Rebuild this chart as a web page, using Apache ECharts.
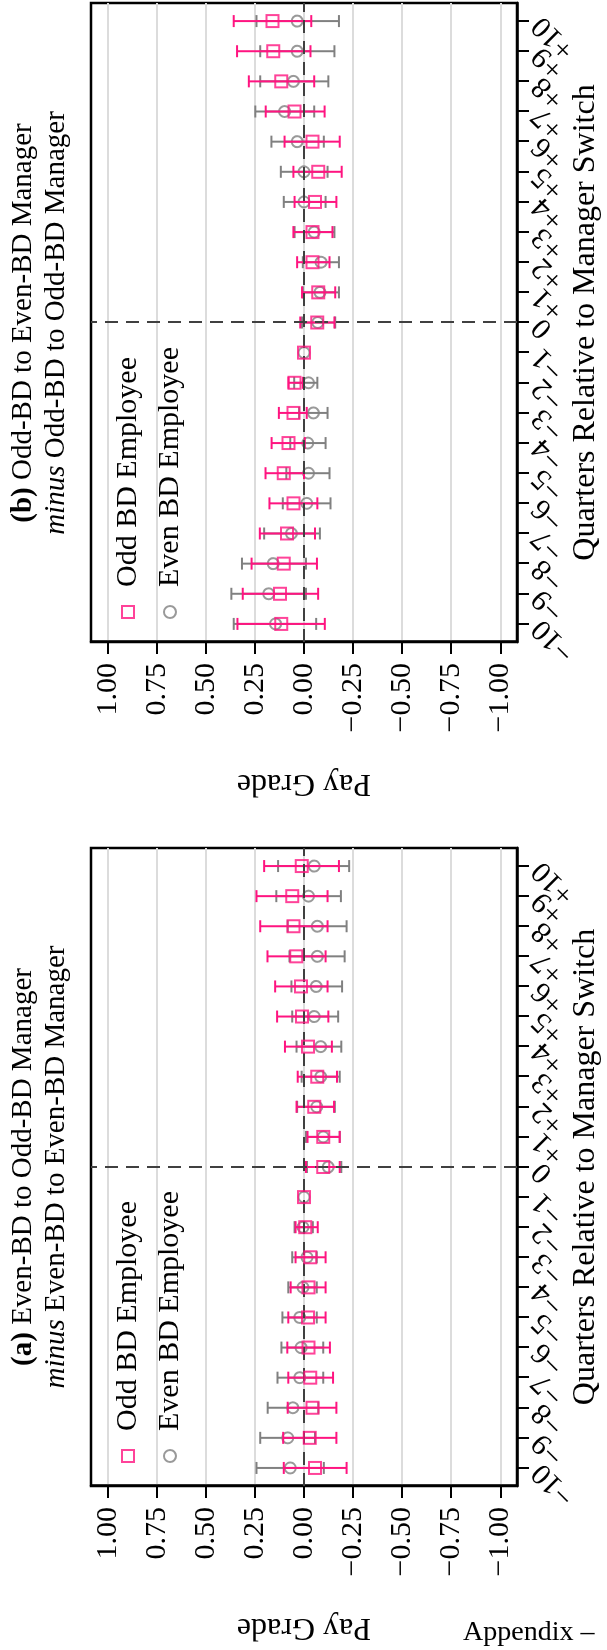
<!DOCTYPE html>
<html>
<head>
<meta charset="utf-8">
<script src="https://cdn.jsdelivr.net/npm/echarts@6/dist/echarts.min.js"></script>
<style>
html, body { margin: 0; padding: 0; background: #fff; width: 607px; height: 1650px; overflow: hidden; }
/* the figure is a landscape page turned a quarter to the left */
#page { position: absolute; left: 0; top: 0; width: 1650px; height: 607px; transform-origin: 0 0; transform: translateY(1650px) rotate(-90deg); }
</style>
</head>
<body>
<div id="page"></div>
<script>
const quarters = [-10, -9, -8, -7, -6, -5, -4, -3, -2, -1, 0, 1, 2, 3, 4, 5, 6, 7, 8, 9, 10];
const gradeTicks = [-1, -0.75, -0.5, -0.25, 0, 0.25, 0.5, 0.75, 1];

// (a) Even-BD to Odd-BD manager
const oddA   = [-0.056, -0.029, -0.043, -0.032, -0.023, -0.020, -0.023, -0.032, -0.007, 0, -0.098, -0.098, -0.052, -0.068, -0.021, 0.010, 0.015, 0.039, 0.054, 0.060, 0.012];
const oddAHi = [0.103, 0.106, 0.083, 0.080, 0.085, 0.080, 0.068, 0.043, 0.043, null, -0.010, -0.018, 0.038, 0.032, 0.097, 0.137, 0.147, 0.186, 0.223, 0.242, 0.203];
const oddALo = [-0.217, -0.165, -0.165, -0.148, -0.132, -0.110, -0.110, -0.110, -0.070, null, -0.182, -0.182, -0.153, -0.168, -0.142, -0.124, -0.120, -0.110, -0.120, -0.120, -0.178];
const evenA   = [0.070, 0.083, 0.057, 0.022, 0.015, 0.022, 0.005, -0.015, 0.005, 0, -0.123, -0.098, -0.065, -0.085, -0.085, -0.052, -0.062, -0.068, -0.068, -0.023, -0.052];
const evenAHi = [0.242, 0.223, 0.185, 0.135, 0.115, 0.110, 0.080, 0.060, 0.048, null, -0.015, -0.010, 0.035, 0.012, 0.038, 0.060, 0.064, 0.074, 0.083, 0.141, 0.132];
const evenALo = [-0.101, -0.056, -0.073, -0.098, -0.098, -0.065, -0.065, -0.065, -0.045, null, -0.190, -0.182, -0.157, -0.182, -0.190, -0.174, -0.194, -0.207, -0.217, -0.188, -0.230];

// (b) Odd-BD to Even-BD manager
const oddB   = [0.116, 0.122, 0.103, 0.087, 0.054, 0.103, 0.079, 0.054, 0.048, 0, -0.068, -0.072, -0.043, -0.043, -0.056, -0.072, -0.043, 0.048, 0.116, 0.157, 0.160];
const oddBHi = [0.339, 0.312, 0.267, 0.225, 0.176, 0.196, 0.165, 0.128, 0.079, null, 0.019, 0.010, 0.035, 0.054, 0.048, 0.054, 0.099, 0.195, 0.281, 0.341, 0.358];
const oddBLo = [-0.106, -0.072, -0.066, -0.056, -0.068, 0.000, -0.004, -0.014, 0.006, null, -0.155, -0.159, -0.130, -0.145, -0.165, -0.192, -0.182, -0.105, -0.052, -0.033, -0.037];
const evenB   = [0.145, 0.180, 0.157, 0.064, -0.014, -0.023, -0.019, -0.048, -0.023, 0, -0.070, -0.081, -0.087, -0.052, 0.000, 0.000, 0.035, 0.099, 0.054, 0.035, 0.035];
const evenBHi = [0.358, 0.370, 0.316, 0.203, 0.108, 0.090, 0.070, 0.025, 0.050, null, 0.010, 0.006, 0.006, 0.048, 0.103, 0.118, 0.166, 0.248, 0.223, 0.223, 0.242];
const evenBLo = [-0.062, -0.010, -0.010, -0.081, -0.135, -0.130, -0.110, -0.120, -0.068, null, -0.159, -0.178, -0.178, -0.155, -0.110, -0.120, -0.101, -0.052, -0.124, -0.155, -0.178];

const FONT = 'Liberation Serif';
const PINK = '#ff1480';
const GRAY = '#808080';

const chart = echarts.init(document.getElementById('page'));

// blank stops just past both ends, so echarts' end-label check does not drop -9 / +9
const quarterLabelStops = [-10.5].concat(quarters, [10.5]);

function quarterLabel(v) {
    if (!Number.isInteger(v)) return '';
    if (v === 0) return '0';
    return v > 0 ? '+' + v : '\u2212' + Math.abs(v);
}

function gradeLabel(v) {
    return (v < 0 ? '\u2212' : '') + Math.abs(v).toFixed(2);
}

function barData(lo, hi) {
    return quarters.map((q, i) => [q, lo[i], hi[i]]).filter(d => d[1] != null);
}

function errorBars(color) {
    return function (params, api) {
        const q = api.value(0);
        const a = api.coord([q, api.value(1)]);
        const b = api.coord([q, api.value(2)]);
        const cap = 6;
        const style = { stroke: color, lineWidth: 2, fill: null };
        return {
            type: 'group',
            children: [
                { type: 'line', shape: { x1: a[0], y1: a[1], x2: b[0], y2: b[1] }, style: style },
                { type: 'line', shape: { x1: a[0] - cap, y1: a[1], x2: a[0] + cap, y2: a[1] }, style: style },
                { type: 'line', shape: { x1: b[0] - cap, y1: b[1], x2: b[0] + cap, y2: b[1] }, style: style }
            ]
        };
    };
}

function panelSeries(i, odd, oddLo, oddHi, even, evenLo, evenHi) {
    return [
        {
            name: 'Even BD CI', type: 'custom', xAxisIndex: i, yAxisIndex: i,
            renderItem: errorBars(GRAY), encode: { x: 0, y: [1, 2] },
            data: barData(evenLo, evenHi), z: 2
        },
        {
            name: 'Even BD Employee', type: 'scatter', xAxisIndex: i, yAxisIndex: i,
            symbol: 'circle', symbolSize: 11,
            itemStyle: { color: 'rgba(255,255,255,0)', borderColor: GRAY, borderWidth: 2 },
            data: quarters.map((q, k) => [q, even[k]]), z: 3,
            markLine: {
                silent: true, symbol: 'none', label: { show: false },
                lineStyle: { color: '#404040', width: 2, type: [13, 8] },
                data: [{ xAxis: 0 }, { yAxis: 0 }]
            }
        },
        {
            name: 'Odd BD CI', type: 'custom', xAxisIndex: i, yAxisIndex: i,
            renderItem: errorBars(PINK), encode: { x: 0, y: [1, 2] },
            data: barData(oddLo, oddHi), z: 4
        },
        {
            name: 'Odd BD Employee', type: 'scatter', xAxisIndex: i, yAxisIndex: i,
            symbol: 'rect', symbolSize: 12,
            itemStyle: { color: 'rgba(255,255,255,0)', borderColor: PINK, borderWidth: 2 },
            data: quarters.map((q, k) => [q, odd[k]]), z: 5
        }
    ];
}

function xAxis(i) {
    return {
        type: 'value', gridIndex: i, min: -10.6, max: 10.6, position: 'bottom',
        axisLine: { show: true, onZero: false, lineStyle: { color: '#000', width: 2.5 } },
        axisTick: { show: true, length: 12, customValues: quarters, lineStyle: { color: '#000', width: 2 } },
        axisLabel: { customValues: quarterLabelStops, rotate: 45, margin: 20, formatter: quarterLabel,
            hideOverlap: false, lineHeight: 16,
            fontFamily: FONT, fontSize: 30, color: '#000' },
        splitLine: { show: false },
        name: 'Quarters Relative to Manager Switch', nameLocation: 'middle', nameGap: 53,
        nameMoveOverlap: false,
        nameTextStyle: { fontFamily: FONT, fontSize: 32, color: '#000' }
    };
}

function yAxis(i) {
    return {
        type: 'value', gridIndex: i, min: -1.085, max: 1.085, position: 'left',
        axisLine: { show: true, onZero: false, lineStyle: { color: '#000', width: 2.5 } },
        axisTick: { show: true, length: 12, customValues: gradeTicks, lineStyle: { color: '#000', width: 2 } },
        axisLabel: { customValues: gradeTicks, margin: 21, formatter: gradeLabel,
            showMinLabel: true, showMaxLabel: true,
            fontFamily: FONT, fontSize: 30, color: '#000' },
        splitLine: { show: true, lineStyle: { color: '#dcdcdc', width: 2 } },
        name: 'Pay Grade', nameLocation: 'middle', nameRotate: 90, nameGap: 125,
        nameMoveOverlap: false,
        nameTextStyle: { fontFamily: FONT, fontSize: 32, color: '#000' }
    };
}

function legend(left) {
    return {
        orient: 'vertical', left: left, top: 113, padding: 0, itemGap: 12,
        itemWidth: 12, itemHeight: 12, selectedMode: false,
        data: ['Odd BD Employee', 'Even BD Employee'],
        textStyle: { fontFamily: FONT, fontSize: 30, lineHeight: 30, color: '#000', padding: [0, 0, 0, 14] }
    };
}

function title(center, text) {
    return {
        text: text, left: center, top: 7, textAlign: 'center', padding: 0,
        textStyle: {
            fontFamily: FONT, fontSize: 29, lineHeight: 33, fontWeight: 'normal', color: '#000',
            rich: {
                b: { fontFamily: FONT, fontSize: 29, lineHeight: 33, fontWeight: 'bold', color: '#000' },
                i: { fontFamily: FONT, fontSize: 29, lineHeight: 33, fontStyle: 'italic', color: '#000' }
            }
        }
    };
}

chart.setOption({
    animation: false,
    backgroundColor: '#fff',
    title: [
        title(483, '{b|(a)} Even-BD to Odd-BD Manager\n{i|minus} Even-BD to Even-BD Manager'),
        title(1327, '{b|(b)} Odd-BD to Even-BD Manager\n{i|minus} Odd-BD to Odd-BD Manager')
    ],
    legend: [legend(187), legend(1031)],
    grid: [
        { left: 164, top: 91, width: 638, height: 434, show: true, borderColor: '#000', borderWidth: 2.5 },
        { left: 1008, top: 91, width: 639, height: 434, show: true, borderColor: '#000', borderWidth: 2.5 }
    ],
    xAxis: [xAxis(0), xAxis(1)],
    yAxis: [yAxis(0), yAxis(1)],
    series: [].concat(
        panelSeries(0, oddA, oddALo, oddAHi, evenA, evenALo, evenAHi),
        panelSeries(1, oddB, oddBLo, oddBHi, evenB, evenBLo, evenBHi)
    ),
    graphic: [{
        type: 'text', x: 17, y: 463, rotation: -Math.PI / 2, silent: true,
        style: { text: 'Appendix \u2013', fontFamily: FONT, fontSize: 28, fill: '#000',
            textAlign: 'left', textVerticalAlign: 'middle' }
    }]
});
</script>
</body>
</html>
